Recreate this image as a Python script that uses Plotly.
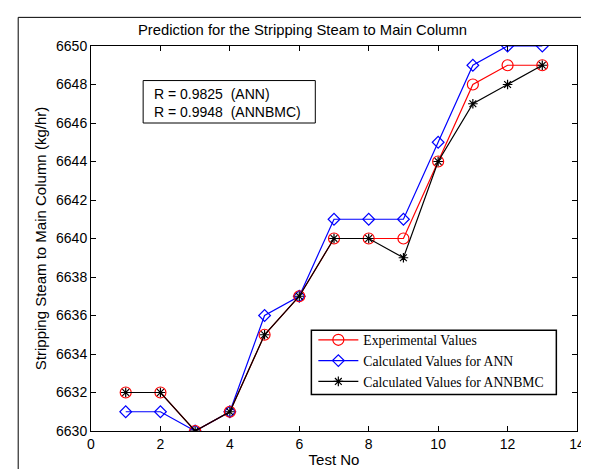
import plotly.graph_objects as go

test_no = list(range(1, 14))
experimental = [6632, 6632, 6630, 6631, 6635, 6637, 6640, 6640, 6640, 6644, 6648, 6649, 6649]
ann = [6631, 6631, 6630, 6631, 6636, 6637, 6641, 6641, 6641, 6645, 6649, 6650, 6650]
annbmc = [6632, 6632, 6630, 6631, 6635, 6637, 6640, 6640, 6639, 6644, 6647, 6648, 6649]

W, H = 589, 469
L, R, T, B = 83, 12, 38, 41
pw, ph = W - L - R, H - T - B

def px(x):
    return (x - L) / pw

def py(y):
    return (H - B - y) / ph

SANS = "Liberation Sans, Arial"
SERIF = "Liberation Serif, Times New Roman"

fig = go.Figure()
fig.add_trace(go.Scatter(x=test_no, y=ann, mode="lines+markers", name="Calculated Values for ANN",
                         line=dict(color="blue", width=1.2), legendrank=2,
                         marker=dict(symbol="diamond-open", size=9, color="blue", line=dict(width=1.2))))
fig.add_trace(go.Scatter(x=test_no, y=experimental, mode="lines+markers", name="Experimental Values",
                         line=dict(color="red", width=1.2), legendrank=1,
                         marker=dict(symbol="circle-open", size=11, color="red", line=dict(width=1.2))))
fig.add_trace(go.Scatter(x=test_no, y=annbmc, mode="lines+markers", name="Calculated Values for ANNBMC",
                         line=dict(color="black", width=1.2), legendrank=3,
                         marker=dict(symbol="asterisk-open", size=8, color="black", line=dict(width=1.2, color="black"))))

axis_common = dict(showline=True, linecolor="black", linewidth=1, mirror="ticks", ticks="inside",
                   ticklen=5, tickcolor="black", showgrid=False, zeroline=False,
                   tickfont=dict(family=SANS, size=14, color="black"))

fig.update_layout(
    width=W, height=H,
    margin=dict(l=L, r=R, t=T, b=B),
    paper_bgcolor="white", plot_bgcolor="white",
    title=dict(text="Prediction for the Stripping Steam to Main Column", x=px(330), xanchor="center",
               y=1 - 22 / H, yanchor="middle",
               font=dict(family=SANS, size=14.8, color="black")),
    xaxis=dict(range=[0, 14], dtick=2, tick0=0,
               title=dict(text="Test No", font=dict(family=SANS, size=15, color="black"), standoff=3),
               **axis_common),
    yaxis=dict(range=[6630, 6650], dtick=2, tick0=6630,
               title=dict(text="Stripping Steam to Main Column (kg/hr)", font=dict(family=SANS, size=15, color="black"), standoff=5),
               **axis_common),
    legend=dict(x=px(309), y=py(320), xanchor="left", yanchor="top", bgcolor="rgba(0,0,0,0)",
                borderwidth=0, font=dict(family=SERIF, size=13.7, color="black"),
                tracegroupgap=0, itemwidth=40),
    showlegend=True,
)

# legend box
fig.add_shape(type="rect", xref="paper", yref="paper", x0=px(307), x1=px(556), y0=py(391), y1=py(326),
              line=dict(color="black", width=1.5), fillcolor="white", layer="below")
# annotation box
fig.add_shape(type="rect", xref="paper", yref="paper", x0=px(136), x1=px(311), y0=py(116), y1=py(73),
              line=dict(color="black", width=1), fillcolor="white", layer="below")
fig.add_annotation(xref="paper", yref="paper", x=px(145), y=py(96), xanchor="left", yanchor="middle",
                   text="R = 0.9825  (ANN)<br>R = 0.9948  (ANNBMC)", showarrow=False, align="left",
                   font=dict(family=SANS, size=14, color="black"))
# outer figure frame
fig.add_shape(type="rect", xref="paper", yref="paper", x0=px(9), x1=px(700), y0=py(600), y1=py(9),
              line=dict(color="black", width=1), layer="below")

fig.write_html("out.html")
